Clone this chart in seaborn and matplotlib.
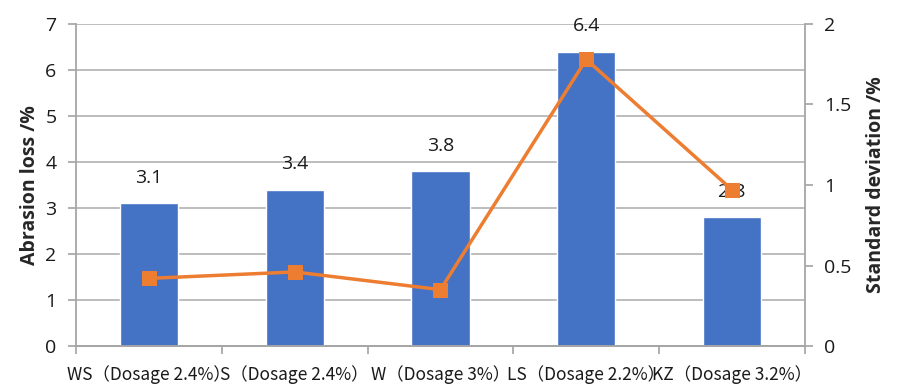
import matplotlib
matplotlib.use("Agg")
import matplotlib.pyplot as plt
import seaborn as sns
import pandas as pd

categories = ["WS（Dosage 2.4%）", "S（Dosage 2.4%）", "W（Dosage 3%）", "LS（Dosage 2.2%）", "KZ（Dosage 3.2%）"]
abrasion_loss = [3.1, 3.4, 3.8, 6.4, 2.8]
std_dev = [0.42, 0.46, 0.35, 1.78, 0.97]

sns.set_theme(style="white")
plt.rcParams["font.family"] = ["Open Sans", "Noto Sans CJK SC", "DejaVu Sans"]
plt.rcParams["text.color"] = "#1a1a1a"
plt.rcParams["ytick.color"] = "#1a1a1a"
plt.rcParams["xtick.color"] = "#1a1a1a"

df = pd.DataFrame({"cat": categories, "loss": abrasion_loss, "sd": std_dev})

fig = plt.figure(figsize=(8.99, 3.9), dpi=100)
ax = fig.add_axes([0.0845, 0.1128, 0.8109, 0.8257])

sns.barplot(data=df, x="cat", y="loss", color="#4472C4", saturation=1, width=0.4, ax=ax, zorder=3)
ax.set_ylim(0, 7)
ax.set_xlim(-0.5, 4.5)
ax.set_yticks(range(0, 8))
ax.yaxis.grid(True, color="#B8B8B8", linewidth=1.3, zorder=0)
ax.set_axisbelow(True)
for i, v in enumerate(abrasion_loss):
    ax.text(i, v + 0.35, f"{v}", ha="center", va="bottom", fontsize=14, color="#1a1a1a", zorder=6)

ax2 = ax.twinx()
sns.lineplot(x=list(range(len(categories))), y=std_dev, ax=ax2, color="#ED7D31", linewidth=2.5,
             marker="s", markersize=10, markeredgecolor="#ED7D31", zorder=5)
ax2.set_ylim(0, 2)
ax2.set_yticks([0, 0.5, 1, 1.5, 2])
ax2.set_yticklabels(["0", "0.5", "1", "1.5", "2"])

for a in (ax, ax2):
    a.spines["top"].set_visible(False)
    for s in ("left", "right", "bottom"):
        a.spines[s].set_color("#A6A6A6")
        a.spines[s].set_linewidth(1.3)

ax.spines["right"].set_visible(False)
ax2.spines["left"].set_visible(False)

ax.tick_params(axis="y", which="major", length=6, color="#A6A6A6", labelsize=14, pad=8, left=True)
ax2.tick_params(axis="y", which="major", length=6, color="#A6A6A6", labelsize=14, pad=8, right=True)

# x ticks at category boundaries, labels at centers
ax.set_xticks([-0.5, 0.5, 1.5, 2.5, 3.5, 4.5])
ax.set_xticklabels([])
ax.tick_params(axis="x", which="major", length=6, color="#A6A6A6", bottom=True)
ax.set_xticks(range(len(categories)), minor=True)
ax.set_xticklabels(categories, minor=True, fontsize=12.5, family=["Noto Sans CJK SC", "DejaVu Sans"])
ax.tick_params(axis="x", which="minor", length=0, pad=14)

ax.set_xlabel("")
ax.set_ylabel("Abrasion loss /%", fontsize=14, fontweight="bold", labelpad=4)
ax2.set_ylabel("Standard deviation /%", fontsize=14, fontweight="bold", labelpad=10)

fig.savefig("out.png", dpi=100)
